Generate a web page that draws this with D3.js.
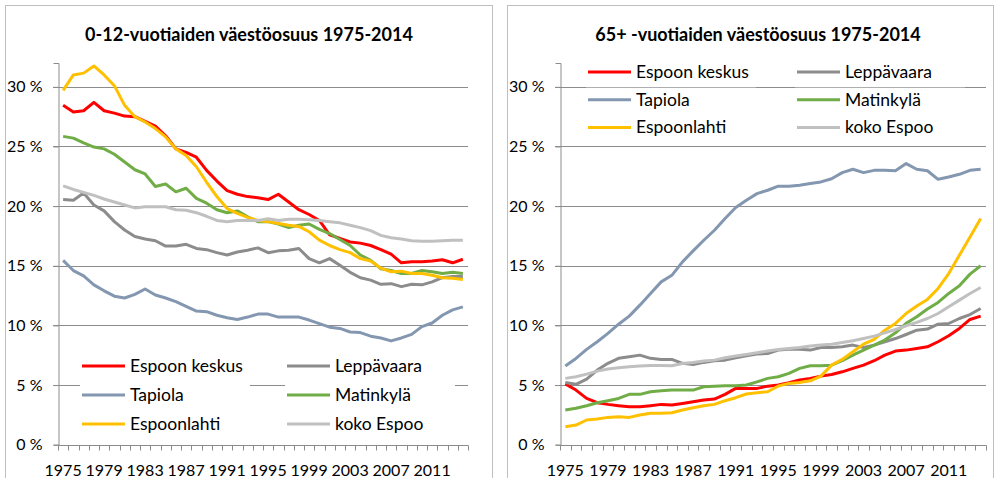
<!DOCTYPE html>
<html>
<head>
<meta charset="utf-8">
<script src="https://cdn.jsdelivr.net/npm/d3@7"></script>
<style>
  body { margin: 0; background: #fff; }
  svg { display: block; }
  text { font-family: Lato, "Open Sans", sans-serif; fill: #000; }
</style>
</head>
<body>
<div id="chart"></div>
<script>
// years on the category axis
var years = d3.range(1975, 2015);
var tickYears = [1975, 1979, 1983, 1987, 1991, 1995, 1999, 2003, 2007, 2011];
var percentTicks = [0, 5, 10, 15, 20, 25, 30];

var seriesNames = ["Espoon keskus", "Leppävaara", "Tapiola", "Matinkylä", "Espoonlahti", "koko Espoo"];
var seriesColors = ["#ff0000", "#8c8c8c", "#8497b0", "#70ad47", "#ffc000", "#c0c0c0"];

// 0-12 year olds, % of population
var childKeskus = [28.45, 27.9, 28.0, 28.7, 28.0, 27.8, 27.55, 27.5, 27.1, 26.7,
  25.9, 24.8, 24.5, 24.1, 23.0, 22.1, 21.3, 21.0, 20.8, 20.7,
  20.55, 21.0, 20.35, 19.7, 19.3, 18.8, 17.6, 17.3, 17.0, 16.9,
  16.7, 16.35, 15.97, 15.25, 15.33, 15.33, 15.4, 15.5, 15.25, 15.55];
var childLeppavaara = [20.55, 20.5, 21.1, 20.1, 19.6, 18.7, 18.0, 17.45, 17.25, 17.1,
  16.65, 16.65, 16.8, 16.45, 16.35, 16.1, 15.9, 16.15, 16.3, 16.5,
  16.1, 16.25, 16.3, 16.45, 15.6, 15.25, 15.6, 15.05, 14.45, 14.0,
  13.8, 13.45, 13.5, 13.25, 13.45, 13.4, 13.65, 14.0, 14.1, 14.1];
var childTapiola = [15.45, 14.6, 14.15, 13.4, 12.9, 12.45, 12.3, 12.6, 13.05, 12.55,
  12.3, 12.0, 11.6, 11.2, 11.15, 10.85, 10.65, 10.5, 10.7, 10.95,
  10.95, 10.7, 10.7, 10.7, 10.45, 10.15, 9.85, 9.75, 9.45, 9.4,
  9.1, 8.95, 8.7, 8.95, 9.25, 9.9, 10.2, 10.85, 11.3, 11.55];
var childMatinkyla = [25.85, 25.7, 25.3, 24.95, 24.8, 24.35, 23.7, 23.05, 22.7, 21.65,
  21.85, 21.2, 21.5, 20.65, 20.25, 19.7, 19.45, 19.6, 19.1, 18.7,
  18.7, 18.5, 18.2, 18.4, 18.5, 18.05, 17.7, 17.2, 16.7, 15.9,
  15.45, 14.75, 14.6, 14.35, 14.35, 14.6, 14.5, 14.35, 14.45, 14.35];
var childEspoonlahti = [29.7, 31.0, 31.15, 31.75, 31.0, 30.1, 28.45, 27.5, 27.05, 26.5,
  25.8, 24.8, 24.25, 23.3, 22.0, 20.8, 19.8, 19.4, 19.05, 18.8,
  18.7, 18.55, 18.4, 18.3, 17.85, 17.15, 16.7, 16.35, 16.1, 15.6,
  15.4, 14.8, 14.5, 14.55, 14.35, 14.35, 14.2, 14.0, 13.95, 13.85];
var childEspoo = [21.7, 21.4, 21.15, 20.9, 20.6, 20.35, 20.1, 19.85, 19.95, 19.95,
  19.95, 19.7, 19.65, 19.45, 19.15, 18.8, 18.7, 18.8, 18.8, 18.8,
  18.95, 18.8, 18.9, 18.9, 18.85, 18.8, 18.7, 18.6, 18.4, 18.2,
  17.95, 17.55, 17.35, 17.25, 17.1, 17.05, 17.05, 17.1, 17.15, 17.15];

// 65+ year olds, % of population
var elderKeskus = [5.1, 4.58, 3.88, 3.52, 3.38, 3.27, 3.18, 3.18, 3.27, 3.38,
  3.32, 3.46, 3.6, 3.74, 3.83, 4.22, 4.72, 4.72, 4.72, 4.91,
  5.0, 5.19, 5.42, 5.56, 5.75, 5.89, 6.11, 6.4, 6.67, 7.04,
  7.51, 7.85, 7.93, 8.07, 8.21, 8.63, 9.13, 9.75, 10.5, 10.78];
var elderLeppavaara = [5.22, 5.06, 5.5, 6.26, 6.82, 7.24, 7.37, 7.51, 7.24, 7.15,
  7.15, 6.82, 6.73, 6.9, 7.04, 7.09, 7.29, 7.46, 7.6, 7.65,
  7.93, 8.01, 8.01, 7.93, 8.15, 8.15, 8.21, 8.35, 8.15, 8.35,
  8.63, 8.9, 9.24, 9.6, 9.69, 10.1, 10.16, 10.58, 10.91, 11.42];
var elderTapiola = [6.59, 7.23, 7.99, 8.63, 9.33, 10.1, 10.78, 11.7, 12.68, 13.65,
  14.2, 15.33, 16.25, 17.14, 17.98, 18.96, 19.88, 20.5, 21.05, 21.33,
  21.67, 21.67, 21.75, 21.89, 22.03, 22.3, 22.81, 23.09, 22.81, 23.0,
  23.0, 22.97, 23.57, 23.09, 22.97, 22.25, 22.45, 22.67, 23.0, 23.09];
var elderMatinkyla = [2.91, 3.05, 3.27, 3.52, 3.69, 3.88, 4.22, 4.22, 4.44, 4.52,
  4.58, 4.58, 4.58, 4.86, 4.91, 4.94, 4.94, 5.0, 5.27, 5.56,
  5.7, 5.98, 6.4, 6.62, 6.62, 6.67, 7.04, 7.51, 7.93, 8.35,
  8.77, 9.38, 10.17, 10.72, 11.37, 11.93, 12.68, 13.32, 14.3, 15.0];
var elderEspoonlahti = [1.51, 1.65, 2.07, 2.15, 2.29, 2.34, 2.29, 2.49, 2.63, 2.63,
  2.68, 2.91, 3.1, 3.27, 3.38, 3.69, 3.94, 4.25, 4.36, 4.44,
  4.92, 5.14, 5.22, 5.36, 5.75, 6.67, 7.15, 7.79, 8.43, 8.82,
  9.6, 10.17, 11.0, 11.62, 12.18, 13.1, 14.35, 15.89, 17.42, 18.96];
var elderEspoo = [5.56, 5.7, 5.92, 6.17, 6.34, 6.45, 6.53, 6.59, 6.64, 6.64,
  6.62, 6.81, 6.9, 7.01, 7.09, 7.29, 7.43, 7.57, 7.71, 7.85,
  7.99, 8.07, 8.15, 8.27, 8.35, 8.43, 8.57, 8.71, 8.9, 9.1,
  9.38, 9.66, 9.97, 10.25, 10.58, 11.0, 11.56, 12.12, 12.68, 13.18];

var W = 999, H = 478;
var svg = d3.select("#chart").append("svg").attr("width", W).attr("height", H);

function drawPanel(cfg) {
  var g = svg.append("g");

  // chart frame
  g.append("rect")
    .attr("x", cfg.frame[0] + 0.5).attr("y", 5.5)
    .attr("width", cfg.frame[1] - cfg.frame[0]).attr("height", 480)
    .attr("fill", "#fff").attr("stroke", "#bfbfbf");

  var x = d3.scaleBand().domain(years).range([cfg.left, cfg.right]).padding(0);
  var y = d3.scaleLinear().domain([0, 32]).range([444.7, 63]);

  g.append("text")
    .attr("x", cfg.titleX).attr("y", 41)
    .attr("text-anchor", "middle")
    .style("font-size", "18px").style("font-weight", "bold")
    .text(cfg.title);

  // gridlines
  g.append("g").selectAll("line")
    .data(percentTicks.filter(function (d) { return d > 0; }))
    .enter().append("line")
    .attr("x1", cfg.left - 5).attr("x2", cfg.right)
    .attr("y1", function (d) { return Math.round(y(d)) + 0.5; })
    .attr("y2", function (d) { return Math.round(y(d)) + 0.5; })
    .attr("stroke", "#8c8c8c").attr("stroke-width", 1);

  // y axis
  var yAxis = d3.axisLeft(y).tickValues(percentTicks).tickSize(5).tickPadding(11)
    .tickFormat(function (d) { return d + " %"; });
  var ya = g.append("g").attr("transform", "translate(" + (cfg.left + 0.5) + ",0)").call(yAxis);
  ya.select(".domain").attr("stroke", "#8c8c8c");
  ya.selectAll(".tick line").attr("stroke", "#8c8c8c");
  ya.selectAll(".tick text").style("font-size", "16px").style("font-family", "Lato, 'Open Sans', sans-serif");

  // x axis with ticks between categories
  var xa = g.append("g").attr("transform", "translate(0," + (Math.round(y(0)) + 0.5) + ")");
  xa.append("line").attr("x1", cfg.left).attr("x2", cfg.right + 0.5).attr("stroke", "#8c8c8c");
  xa.selectAll("line.tk")
    .data(years.concat([2015]))
    .enter().append("line").attr("class", "tk")
    .attr("x1", function (d) { return Math.round(d === 2015 ? cfg.right : x(d)) + 0.5; })
    .attr("x2", function (d) { return Math.round(d === 2015 ? cfg.right : x(d)) + 0.5; })
    .attr("y1", 0).attr("y2", 5)
    .attr("stroke", "#8c8c8c");
  xa.selectAll("text")
    .data(tickYears)
    .enter().append("text")
    .attr("x", function (d) { return x(d) + x.bandwidth() / 2; })
    .attr("y", 30)
    .attr("text-anchor", "middle")
    .style("font-size", "16px")
    .text(function (d) { return d; });

  // series lines
  var line = d3.line()
    .x(function (d, i) { return x(years[i]) + x.bandwidth() / 2; })
    .y(function (d) { return y(d); });
  g.append("g").selectAll("path")
    .data(cfg.series)
    .enter().append("path")
    .attr("d", function (d) { return line(d); })
    .attr("fill", "none")
    .attr("stroke", function (d, i) { return seriesColors[i]; })
    .attr("stroke-width", 3)
    .attr("stroke-linejoin", "round");

  // legend, two columns
  var lg = g.append("g");
  var items = lg.selectAll("g")
    .data(seriesNames)
    .enter().append("g")
    .attr("transform", function (d, i) {
      return "translate(" + cfg.legendCols[i % 2] + "," + (cfg.legendTop + Math.floor(i / 2) * cfg.legendStep) + ")";
    });
  items.append("rect")
    .attr("x", -2).attr("y", -12).attr("width", 170).attr("height", 24)
    .attr("fill", "#fff");
  items.append("line")
    .attr("x1", 0).attr("x2", 43)
    .attr("stroke", function (d, i) { return seriesColors[i]; })
    .attr("stroke-width", 3);
  items.append("text")
    .attr("x", 48).attr("y", 6)
    .style("font-size", "17.5px")
    .text(function (d) { return d; });
}

drawPanel({
  frame: [5, 492],
  left: 58, right: 468,
  title: "0-12-vuotiaiden väestöosuus 1975-2014",
  titleX: 249,
  series: [childKeskus, childLeppavaara, childTapiola, childMatinkyla, childEspoonlahti, childEspoo],
  legendCols: [82, 287], legendTop: 366, legendStep: 29
});

drawPanel({
  frame: [507, 993],
  left: 560, right: 986,
  title: "65+ -vuotiaiden väestöosuus 1975-2014",
  titleX: 758,
  series: [elderKeskus, elderLeppavaara, elderTapiola, elderMatinkyla, elderEspoonlahti, elderEspoo],
  legendCols: [588, 797], legendTop: 72, legendStep: 27.7
});
</script>
</body>
</html>
